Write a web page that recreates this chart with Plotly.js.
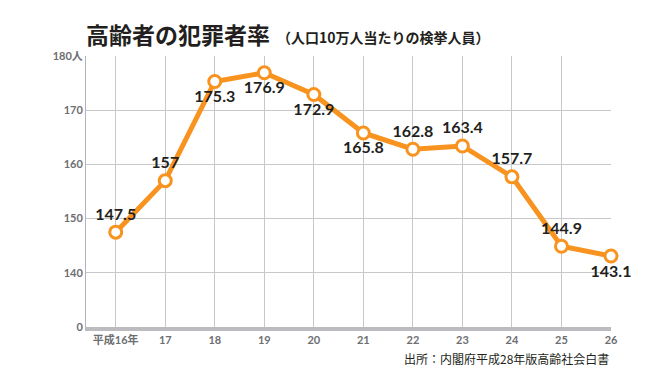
<!DOCTYPE html>
<html>
<head>
<meta charset="utf-8">
<script src="https://cdn.plot.ly/plotly-3.0.1.min.js"></script>
<style>html,body{margin:0;padding:0;background:#fff;}#chart{width:669px;height:384px;}</style>
</head>
<body>
<div id="chart"></div>
<script>
const years = [16, 17, 18, 19, 20, 21, 22, 23, 24, 25, 26];
const yearLabels = ['平成16年', '17', '18', '19', '20', '21', '22', '23', '24', '25', '26'];
const rates = [147.5, 157, 175.3, 176.9, 172.9, 165.8, 162.8, 163.4, 157.7, 144.9, 143.1];
const rateLabels = ['147.5', '157', '175.3', '176.9', '172.9', '165.8', '162.8', '163.4', '157.7', '144.9', '143.1'];
const labelPos = ['top center', 'top center', 'bottom center', 'bottom center', 'bottom center', 'bottom center', 'top center', 'top center', 'top center', 'top center', 'bottom center'];
const yTickVals = [130, 140, 150, 160, 170, 180];
const yTickText = ['0', '140', '150', '160', '170', '180人'];

const trace = {
  x: years, y: rates, text: rateLabels,
  type: 'scatter', mode: 'lines+markers+text',
  textposition: labelPos,
  textfont: {family: 'Lato, "Noto Sans CJK JP", sans-serif', size: 16, color: '#231f20', weight: 'bold'},
  line: {color: '#f7931e', width: 5},
  marker: {size: 12, color: '#ffffff', line: {color: '#f7931e', width: 3}},
  cliponaxis: false,
  hoverinfo: 'none'
};

const tickFont = {family: 'Lato, "Noto Sans CJK JP", sans-serif', size: 11, color: '#6d6e71', weight: 'bold'};

const layout = {
  width: 669, height: 384,
  margin: {l: 86, r: 58, t: 56, b: 57},
  paper_bgcolor: '#ffffff', plot_bgcolor: '#ffffff',
  showlegend: false,
  xaxis: {
    range: [15.4, 26], tickvals: years, ticktext: yearLabels,
    showgrid: true, gridcolor: '#c8c8ca', gridwidth: 1,
    showline: true, linecolor: '#bcbcc0', linewidth: 4,
    ticks: '', tickfont: tickFont, zeroline: false, fixedrange: true
  },
  yaxis: {
    range: [130, 180], tickvals: yTickVals, ticktext: yTickText,
    showgrid: true, gridcolor: '#c8c8ca', gridwidth: 1,
    showline: true, linecolor: '#b4b4b8', linewidth: 1,
    ticks: '', tickfont: tickFont, zeroline: false, fixedrange: true
  },
  annotations: [
    {xref: 'paper', yref: 'paper', x: -0.004, y: 1.0, yshift: 22, xanchor: 'left', yanchor: 'middle', showarrow: false,
     text: '<b>高齢者の犯罪者率</b>',
     font: {family: '"Noto Sans CJK JP", sans-serif', size: 23, color: '#231f20'}},
    {xref: 'paper', yref: 'paper', x: 0.36, y: 1.0, yshift: 19, xanchor: 'left', yanchor: 'middle', showarrow: false,
     text: '<b>（人口10万人当たりの検挙人員）</b>',
     font: {family: '"Noto Sans CJK JP", sans-serif', size: 14, color: '#231f20'}},
    {xref: 'paper', yref: 'paper', x: 1.0, y: 0, yshift: -31, xanchor: 'right', yanchor: 'middle', showarrow: false,
     text: '出所：内閣府平成28年版高齢社会白書',
     font: {family: '"Noto Sans CJK JP", sans-serif', size: 12, color: '#231f20'}}
  ]
};

Plotly.newPlot('chart', [trace], layout, {displayModeBar: false, staticPlot: true});
</script>
</body>
</html>
